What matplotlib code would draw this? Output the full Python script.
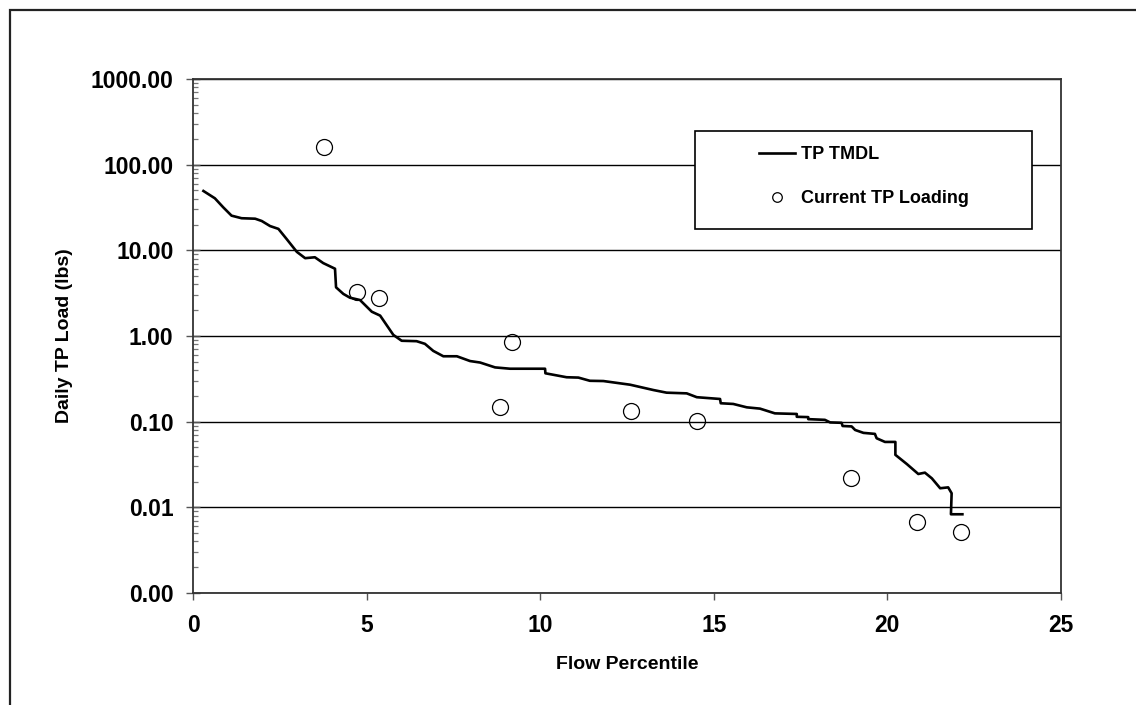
import matplotlib
matplotlib.use("Agg")
import matplotlib.pyplot as plt
from matplotlib.patches import Rectangle
from matplotlib.ticker import FixedLocator, LogLocator, FormatStrFormatter, NullFormatter

plt.rcParams['font.family'] = ['Liberation Sans', 'DejaVu Sans']
plt.rcParams['font.weight'] = 'bold'

# TP TMDL curve (flow percentile, daily load lbs)
tmdl_x = [0.30, 0.63, 0.87, 1.11, 1.40, 1.79, 1.98, 2.22, 2.46, 2.70, 2.99, 3.23,
          3.51, 3.75, 4.09, 4.12, 4.33, 4.52, 4.81, 5.15, 5.39, 5.77, 6.01, 6.44,
          6.68, 6.92, 7.21, 7.60, 7.98, 8.27, 8.70, 9.13, 10.14, 10.15, 10.76, 11.10,
          11.43, 11.82, 12.59, 13.26, 13.64, 14.22, 14.51, 15.18, 15.20, 15.56, 15.95,
          16.33, 16.76, 17.39, 17.39, 17.72, 17.72, 18.20, 18.35, 18.68, 18.71, 18.97,
          19.07, 19.31, 19.64, 19.69, 19.93, 20.23, 20.23, 20.56, 20.89, 21.08, 21.28,
          21.52, 21.75, 21.85, 21.83, 22.16]
tmdl_y = [49.3, 40.5, 31.8, 25.4, 23.7, 23.4, 22.0, 19.2, 17.8, 13.5, 9.6, 8.1,
          8.3, 7.1, 6.1, 3.7, 3.1, 2.8, 2.63, 1.92, 1.73, 1.03, 0.88, 0.87,
          0.81, 0.67, 0.58, 0.58, 0.51, 0.49, 0.43, 0.415, 0.415, 0.367, 0.330, 0.327,
          0.300, 0.298, 0.270, 0.234, 0.218, 0.214, 0.193, 0.184, 0.164, 0.161, 0.147,
          0.142, 0.125, 0.123, 0.114, 0.113, 0.107, 0.105, 0.098, 0.097, 0.089, 0.088,
          0.080, 0.074, 0.072, 0.064, 0.058, 0.058, 0.041, 0.032, 0.0245, 0.0254, 0.0218,
          0.0167, 0.0171, 0.0146, 0.0083, 0.0083]

# Current TP loading observations
load_x = [3.77, 4.73, 5.36, 9.18, 8.85, 12.61, 14.52, 18.95, 20.85, 22.12]
load_y = [160.0, 3.24, 2.75, 0.845, 0.147, 0.134, 0.103, 0.0218, 0.00668, 0.00512]

x_ticks = [0, 5, 10, 15, 20, 25]
y_ticks = [0.001, 0.01, 0.1, 1, 10, 100, 1000]

W, H = 1136, 705
fig = plt.figure(figsize=(W / 100, H / 100), dpi=100)
ax = fig.add_axes([193 / W, 1 - 593 / H, 868 / W, 514 / H])

# outer chart frame (runs off the right and bottom edges)
fig.patches.append(Rectangle((10 / W, -0.2), 1.2, 1.2 - 10 / H + 0.0, transform=fig.transFigure,
                             fill=False, edgecolor='#222222', lw=1.6, clip_on=False))

ax.plot(tmdl_x, tmdl_y, color='black', lw=1.9, zorder=3, label='TP TMDL')
ax.plot(load_x, load_y, ls='none', marker='o', ms=11.5, mfc='none', mec='black',
        mew=0.9, zorder=4, label='Current TP Loading')

ax.set_yscale('log')
ax.set_xlim(0, 25)
ax.set_ylim(0.001, 1000)
ax.xaxis.set_major_locator(FixedLocator(x_ticks))
ax.yaxis.set_major_locator(FixedLocator(y_ticks))
ax.yaxis.set_major_formatter(FormatStrFormatter('%.2f'))
ax.yaxis.set_minor_locator(LogLocator(base=10, subs=range(2, 10), numticks=20))
ax.yaxis.set_minor_formatter(NullFormatter())

ax.grid(True, axis='y', which='major', color='black', lw=1.0, zorder=1)
for s in ax.spines.values():
    s.set_color('#333333')
    s.set_linewidth(1.3)

ax.tick_params(axis='y', which='major', direction='inout', length=10, width=1.0,
               color='#555555', pad=9, labelsize=16.5)
ax.tick_params(axis='y', which='minor', direction='in', length=3.6, width=0.9,
               color='#777777')
ax.tick_params(axis='x', which='major', direction='out', length=5, width=1.0,
               color='#555555', pad=10, labelsize=16.5)
for lab in ax.get_xticklabels() + ax.get_yticklabels():
    lab.set_fontweight('bold')

ax.set_xlabel('Flow Percentile', fontsize=14, fontweight='bold', labelpad=14)
ax.set_ylabel('Daily TP Load (lbs)', fontsize=14, fontweight='bold')
ax.yaxis.set_label_coords(-0.138, 0.5)

# legend box and entries
ax.add_patch(Rectangle(((695 - 193) / 868, (593 - 229) / 514), 337 / 868, 98 / 514,
                       transform=ax.transAxes, facecolor='white', edgecolor='black',
                       lw=1.2, zorder=5))
leg = ax.legend(loc='upper left', bbox_to_anchor=(759 / W, 1 - 146 / H),
                bbox_transform=fig.transFigure, frameon=False, borderpad=0,
                borderaxespad=0, handlelength=2.0, handletextpad=0.35,
                labelspacing=1.5, markerscale=0.6, prop={'size': 13, 'weight': 'bold'})
leg.set_zorder(6)

fig.savefig('out.png', dpi=100)
